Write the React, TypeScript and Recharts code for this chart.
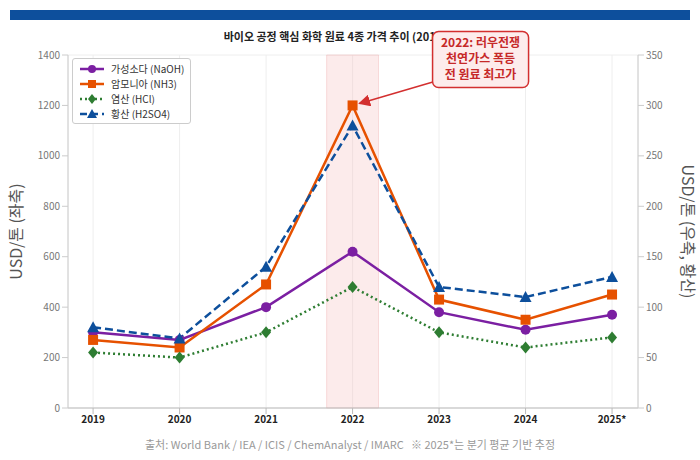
import {
  LineChart,
  Line,
  XAxis,
  YAxis,
  CartesianGrid,
  ReferenceArea,
  ReferenceDot,
} from "recharts";

const years = [2019, 2020, 2021, 2022, 2023, 2024, 2025];
const naoh = [300, 270, 400, 620, 380, 310, 370];
const nh3 = [270, 240, 490, 1200, 430, 350, 450];
const hcl = [220, 200, 300, 480, 300, 240, 280];
const h2so4 = [80, 69, 140, 280, 120, 110, 130];

const data = years.map((year, i) => ({
  year,
  naoh: naoh[i],
  nh3: nh3[i],
  hcl: hcl[i],
  h2so4: h2so4[i],
}));

const font = "'Noto Sans CJK KR', 'Noto Sans', sans-serif";
const legendItems = [
  { name: "가성소다 (NaOH)", color: "#7b1fa2", dash: "", shape: "circle" },
  { name: "암모니아 (NH3)", color: "#e65100", dash: "", shape: "square" },
  { name: "염산 (HCl)", color: "#2e7d32", dash: "2 3", shape: "diamond" },
  { name: "황산 (H2SO4)", color: "#0d4f9c", dash: "7 4", shape: "triangle" },
];

function Marker({ shape, color, x, y, r }: { shape: string; color: string; x: number; y: number; r: number }) {
  if (shape === "circle") return <circle cx={x} cy={y} r={r} fill={color} />;
  if (shape === "square") return <rect x={x - r} y={y - r} width={2 * r} height={2 * r} fill={color} />;
  if (shape === "diamond")
    return <polygon points={`${x},${y - r - 1} ${x + r},${y} ${x},${y + r + 1} ${x - r},${y}`} fill={color} />;
  return <polygon points={`${x},${y - r - 1} ${x + r + 1},${y + r} ${x - r - 1},${y + r}`} fill={color} />;
}

const dot = (shape: string, color: string) => (p: any) =>
  <Marker key={p.index} shape={shape} color={color} x={p.cx} y={p.cy} r={5} />;

function LegendBox() {
  return (
    <div
      style={{
        position: "absolute",
        left: 72,
        top: 58,
        background: "white",
        border: "1px solid #ccc",
        borderRadius: 3,
        padding: "2px 6px",
        fontSize: 10,
        fontFamily: font,
        color: "#333",
        lineHeight: "15px",
        zIndex: 2,
      }}
    >
      {legendItems.map((it) => (
        <div key={it.name} style={{ display: "flex", alignItems: "center", gap: 6 }}>
          <svg width={26} height={12}>
            <line x1={1} y1={6} x2={25} y2={6} stroke={it.color} strokeWidth={2.5} strokeDasharray={it.dash} />
            <Marker shape={it.shape} color={it.color} x={13} y={6} r={4} />
          </svg>
          {it.name}
        </div>
      ))}
    </div>
  );
}

function Callout(p: any) {
  const { cx, cy } = p;
  const bx = cx + 80;
  const by = cy - 58;
  return (
    <g>
      <defs>
        <marker id="ah" markerWidth="8" markerHeight="8" refX="7" refY="4" orient="auto">
          <path d="M0,0 L8,4 L0,8 z" fill="#d32f2f" />
        </marker>
      </defs>
      <line x1={bx + 2} y1={by + 34} x2={cx + 7} y2={cy - 2} stroke="#d32f2f" strokeWidth={1.5} markerEnd="url(#ah)" />
      <rect x={bx} y={by - 16} width={96} height={56} rx={6} fill="#fdecec" stroke="#d32f2f" strokeWidth={1.5} />
      {["2022: 러우전쟁", "천연가스 폭등", "전 원료 최고가"].map((t, i) => (
        <text key={i} x={bx + 48} y={by + i * 16} textAnchor="middle" fill="#c62828" fontSize={12} fontWeight={700} fontFamily={font}>
          {t}
        </text>
      ))}
    </g>
  );
}

export default function App() {
  return (
    <div style={{ position: "absolute", left: 0, top: 0, width: 700, height: 460, background: "white", fontFamily: font }}>
      <div style={{ position: "absolute", left: 10, top: 10, width: 680, height: 10, background: "#0d4f9c" }} />
      <div style={{ position: "absolute", top: 28, width: 700, textAlign: "center", fontSize: 11, fontWeight: 700, color: "#222" }}>
        바이오 공정 핵심 화학 원료 4종 가격 추이 (2019-2025)
      </div>
      <div style={{ position: "absolute", top: 436, width: 700, textAlign: "center", fontSize: 11, color: "#999" }}>
        출처: World Bank / IEA / ICIS / ChemAnalyst / IMARC &nbsp; ※ 2025*는 분기 평균 기반 추정
      </div>
      <LineChart width={700} height={460} data={data} margin={{ top: 55, right: 12, left: 8, bottom: 27 }} style={{ position: "absolute", left: 0, top: 0 }}>
        <CartesianGrid stroke="#eee" />
        <ReferenceArea x1={2021.7} x2={2022.3} yAxisId="l" y1={0} y2={1400} fill="#f5c6c6" fillOpacity={0.35} stroke="#f0b0b0" strokeOpacity={0.4} />
        <XAxis
          dataKey="year"
          type="number"
          domain={[2018.71, 2025.3]}
          ticks={years}
          tickFormatter={(v) => (v === 2025 ? "2025*" : String(v))}
          tick={{ fontSize: 10, fontWeight: 700, fill: "#222" }}
          axisLine={{ stroke: "#bbb" }}
          tickLine={{ stroke: "#bbb" }}
          height={25}
        />
        <YAxis
          yAxisId="l"
          domain={[0, 1400]}
          ticks={[0, 200, 400, 600, 800, 1000, 1200, 1400]}
          width={60}
          tick={{ fontSize: 10, fill: "#777" }}
          axisLine={{ stroke: "#ccc" }}
          tickLine={{ stroke: "#ccc" }}
          label={{ value: "USD/톤 (좌축)", angle: -90, position: "insideLeft", offset: 8, style: { fontSize: 16, fill: "#555", textAnchor: "middle" } }}
        />
        <YAxis
          yAxisId="r"
          orientation="right"
          domain={[0, 350]}
          ticks={[0, 50, 100, 150, 200, 250, 300, 350]}
          width={50}
          tick={{ fontSize: 10, fill: "#777" }}
          axisLine={{ stroke: "#ccc" }}
          tickLine={{ stroke: "#ccc" }}
          label={{ value: "USD/톤 (우축, 황산)", angle: 90, position: "insideRight", offset: 0, style: { fontSize: 16, fill: "#555", textAnchor: "middle" } }}
        />
        <Line yAxisId="l" dataKey="naoh" stroke="#7b1fa2" strokeWidth={2.5} dot={dot("circle", "#7b1fa2")} isAnimationActive={false} />
        <Line yAxisId="l" dataKey="nh3" stroke="#e65100" strokeWidth={2.5} dot={dot("square", "#e65100")} isAnimationActive={false} />
        <Line yAxisId="l" dataKey="hcl" stroke="#2e7d32" strokeWidth={2.5} strokeDasharray="2 3" dot={dot("diamond", "#2e7d32")} isAnimationActive={false} />
        <Line yAxisId="r" dataKey="h2so4" stroke="#0d4f9c" strokeWidth={2.5} strokeDasharray="8 4" dot={dot("triangle", "#0d4f9c")} isAnimationActive={false} />
        <ReferenceDot yAxisId="l" x={2022} y={1200} r={0} shape={Callout} />
      </LineChart>
      <LegendBox />
    </div>
  );
}
